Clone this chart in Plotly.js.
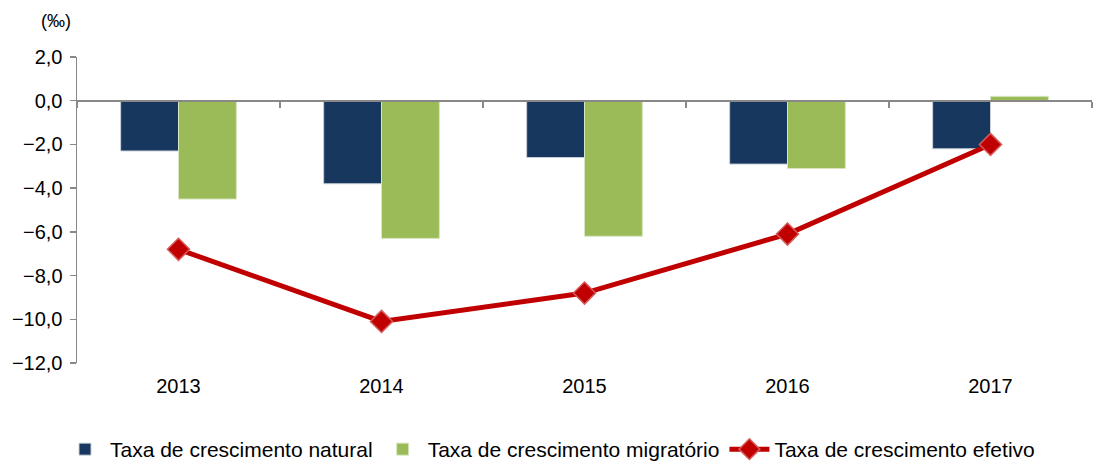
<!DOCTYPE html>
<html>
<head>
<meta charset="utf-8">
<script src="https://cdn.plot.ly/plotly-3.0.1.min.js"></script>
<style>html,body{margin:0;padding:0;background:#fff;}#chart{width:1100px;height:470px;}</style>
</head>
<body>
<div id="chart"></div>
<script>
const years = ['2013', '2014', '2015', '2016', '2017'];
const natural = [-2.3, -3.8, -2.6, -2.9, -2.2];
const migratorio = [-4.5, -6.3, -6.2, -3.1, 0.2];
const efetivo = [-6.8, -10.1, -8.8, -6.1, -2.0];
const seriesNames = ['Taxa de crescimento natural', 'Taxa de crescimento migratório', 'Taxa de crescimento efetivo'];
const yTicks = [2, 0, -2, -4, -6, -8, -10, -12];

const FONT = '"Liberation Sans", Arial, sans-serif';
const yMin = -12, yMax = 2;

const traces = [
  {type: 'bar', name: seriesNames[0], x: years, y: natural,
   marker: {color: '#17375E', line: {color: '#c9d0d8', width: 1}}},
  {type: 'bar', name: seriesNames[1], x: years, y: migratorio,
   marker: {color: '#9BBB59', line: {color: '#d8e6c0', width: 1}}},
  {type: 'scatter', mode: 'lines+markers', name: seriesNames[2], x: years, y: efetivo,
   xaxis: 'x2',
   line: {color: '#C00000', width: 5},
   marker: {symbol: 'diamond', size: 17, color: '#C00000', line: {color: '#D65A5A', width: 1.5}}}
];

const layout = {
  width: 1100, height: 470,
  margin: {l: 77, r: 8, t: 57, b: 107, autoexpand: false},
  paper_bgcolor: '#fff', plot_bgcolor: '#fff',
  font: {family: FONT, color: '#000', size: 19},
  barmode: 'group', bargap: 0.43, bargroupgap: 0,
  showlegend: true,
  legend: {orientation: 'h', x: 0.5, xref: 'container', xanchor: 'center',
           y: 0, yref: 'container', yanchor: 'bottom',
           font: {family: FONT, size: 21, color: '#000'}, itemwidth: 40, tracegroupgap: 0},
  xaxis: {type: 'category', range: [-0.5, 4.5], showline: false, showgrid: false, zeroline: false,
          ticks: '', ticklabelstandoff: 9, tickfont: {family: FONT, size: 20}, fixedrange: true},
  xaxis2: {type: 'category', overlaying: 'x', anchor: 'free', position: (0 - yMin) / (yMax - yMin),
           range: [-0.5, 4.5], showline: true, linecolor: '#888', linewidth: 2,
           ticks: 'outside', tickson: 'boundaries', ticklen: 6, tickcolor: '#888', tickwidth: 1.5,
           showticklabels: false, showgrid: false, zeroline: false},
  yaxis: {range: [yMin, yMax], tickvals: yTicks, tickformat: '.1f', showline: true, linecolor: '#888',
          linewidth: 1.5, ticks: 'outside', ticklen: 6, tickcolor: '#888', tickwidth: 1.5,
          showgrid: false, zeroline: false, tickfont: {family: FONT, size: 20}, ticklabelstandoff: 3},
  separators: ',.',
  annotations: [{text: '(‰)', xref: 'paper', yref: 'paper', x: -0.004, y: 1.0, yshift: 36,
                 xanchor: 'right', yanchor: 'middle', showarrow: false,
                 font: {family: FONT, size: 18, color: '#000'}}]
};

Plotly.newPlot('chart', traces, layout, {displayModeBar: false, staticPlot: true});
</script>
</body>
</html>
